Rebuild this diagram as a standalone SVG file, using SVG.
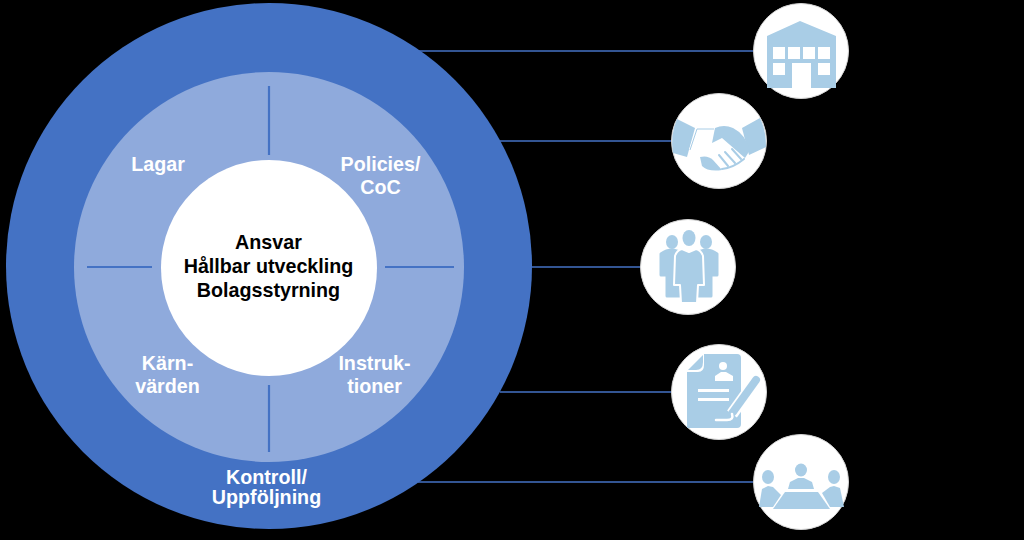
<svg xmlns="http://www.w3.org/2000/svg" width="1024" height="540" viewBox="0 0 1024 540">
<style>
.t{font-family:"Liberation Sans",Arial,sans-serif;font-weight:700;font-size:19.7px;text-anchor:middle;fill:#fff}
.c{fill:#000}
.ic{fill:#fff;stroke:#d6d6d6;stroke-width:1}
.i{fill:#a9cde6}
.is{fill:#a9cde6;stroke:#a9cde6;stroke-width:3;stroke-linejoin:round}
.w{fill:#fff}
.ws{fill:none;stroke:#fff;stroke-width:2}
.bs{fill:none;stroke:#a9cde6;stroke-width:2;stroke-linecap:round}
.l{stroke:#4472c4;stroke-width:1.3;fill:none}
.d{stroke:#4472c4;stroke-width:2.2;fill:none}
</style>
<rect width="1024" height="540" fill="#000"/>
<g id="connectors">
<path class="l" d="M418 51H755M500 141H673M525 267H642M500 392H673M418 482H755"/>
</g>
<g id="outer-ring">
<circle cx="269" cy="266" r="263" fill="#4472c4"/>
<text class="t" x="266.500" y="484">Kontroll/</text>
<text class="t" x="266.500" y="504">Uppföljning</text>
</g>
<g id="middle-ring">
<circle cx="269" cy="267" r="195" fill="#8faadc"/>
<path class="d" d="M269 86V155M269 385V452M87 267H152M385 267H454"/>
<text class="t" x="158" y="171">Lagar</text>
<text class="t" x="380.500" y="171">Policies/</text>
<text class="t" x="380.500" y="194">CoC</text>
<text class="t" x="167.500" y="370">Kärn-</text>
<text class="t" x="167.500" y="393">värden</text>
<text class="t" x="374.500" y="370">Instruk-</text>
<text class="t" x="374.500" y="393">tioner</text>
</g>
<g id="center">
<circle cx="269" cy="268" r="108" fill="#fff"/>
<text class="t c" x="268.500" y="249">Ansvar</text>
<text class="t c" x="268.500" y="273">Hållbar utveckling</text>
<text class="t c" x="268.500" y="297">Bolagsstyrning</text>
</g>
<g id="icon-building">
<circle class="ic" cx="801" cy="51" r="47.500"/>
<path class="i" d="M767 36L800 21L836 36V88H811V63H792V88H767Z"/>
<path class="w" d="M773 47h12v12h-12zM788 47h12v12h-12zM803 47h12v12h-12zM818 47h12v12h-12zM773 63h12v12h-12zM818 63h12v12h-12z"/>
</g>
<g id="icon-handshake">
<circle class="ic" cx="719" cy="141" r="47.500"/>
<path class="i" d="M677 119L695 128L687 157L673 153Q670 135 677 119Z"/>
<path class="i" d="M760 118L742 128L749 155L766 147Q766 130 760 118Z"/>
<path class="ws" d="M690 150L697 129H714"/>
<path fill="none" stroke="#a9cde6" stroke-width="1" d="M690 150L697 129H714"/>
<path class="i" d="M712 143L715 128Q724 124 733 128Q745 134 750 150L745 158L722 138Z"/>
<path class="bs" d="M719 155L728 166M725 152L735 163M732 149L741 159"/>
<path class="bs" d="M722 169Q733 168 744 159"/>
<path class="i" d="M700 157Q708 155 713 160L722 170Q708 172 702 166Z"/>
</g>
<g id="icon-people">
<circle class="ic" cx="688" cy="267" r="47.500"/>
<ellipse class="i" cx="672" cy="242" rx="6" ry="7"/>
<ellipse class="i" cx="706" cy="242" rx="6" ry="7"/>
<path class="is" d="M661 254Q666 250 673 250L680 252V296H667V275H661Z"/>
<path class="is" d="M717 254Q712 250 705 250L698 252V296H711V275H717Z"/>
<ellipse class="i" cx="689" cy="238" rx="6.500" ry="8"/>
<path fill="#a9cde6" stroke="#fff" stroke-width="2" stroke-linejoin="round" d="M675 256Q677 250 682 249L689 252L696 249Q701 250 703 256L704 285H698L697 303H681L680 285H674Z"/>
</g>
<g id="icon-document">
<circle class="ic" cx="719" cy="392" r="47.500"/>
<path class="i" d="M704 354H737Q741 354 741 358V424Q741 428 737 428H687V372H698Q704 372 704 365Z"/>
<path class="i" d="M688 370L703 355V362Q703 370 696 370Z"/>
<circle class="w" cx="723" cy="366" r="4"/>
<path class="w" d="M715 381V376L721 372H726L733 376V381Z"/>
<path class="w" d="M698 389h31v3h-31zM698 398h31v3h-31z"/>
<path fill="none" stroke="#fff" stroke-width="12" d="M755 382L732 414"/>
<path fill="none" stroke="#a9cde6" stroke-width="8" stroke-linecap="round" d="M756 380L733 412"/>
<path fill="#a9cde6" d="M729 410L735 416L728 419Z"/>
<path fill="none" stroke="#fff" stroke-width="2.500" stroke-linecap="round" d="M716 420H727Q734 420 732 414"/>
</g>
<g id="icon-meeting">
<circle class="ic" cx="801" cy="482" r="47.500"/>
<ellipse class="i" cx="801" cy="470" rx="6" ry="6.500"/>
<path class="i" d="M788 489L790 482L798 478H804L812 482L814 489Z"/>
<ellipse class="i" cx="768" cy="477" rx="6" ry="7"/>
<path class="i" d="M759 507L762 489L768 486L773 487L781 495L773 507Z"/>
<ellipse class="i" cx="834" cy="477" rx="6" ry="7"/>
<path class="i" d="M844 507L840 488L834 486L830 487L822 493L830 507Z"/>
<path class="i" d="M785 492H818L830 509H773Z"/>
</g>
</svg>
